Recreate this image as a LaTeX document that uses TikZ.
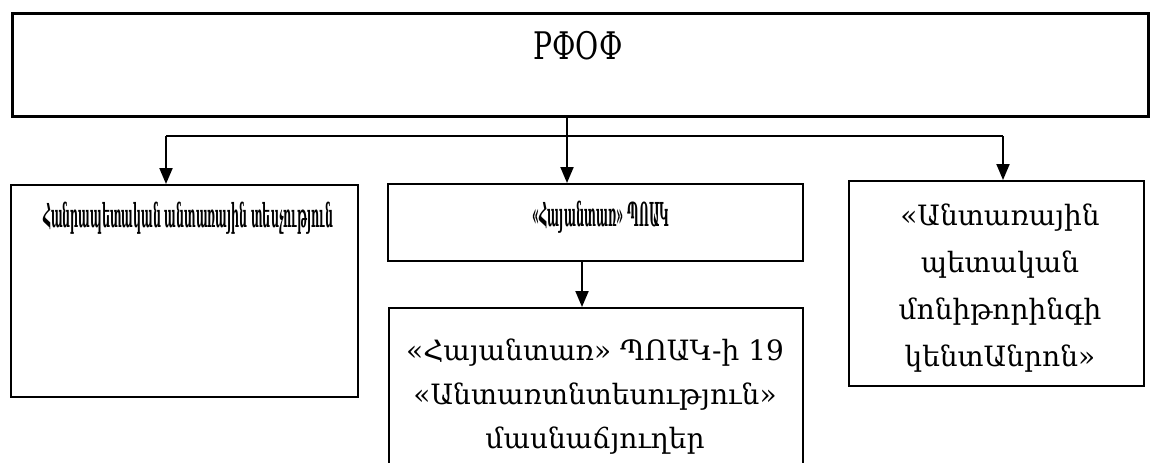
\documentclass[tikz,border=0pt]{standalone}
\usepackage{fontspec}
\setmainfont{DejaVu Serif}
\usepackage{graphicx}
\usetikzlibrary{arrows.meta}

\tikzset{every picture/.style={line width=0.75pt}}
\tikzset{
  box/.style={draw, line width=1pt, inner sep=0pt, anchor=north west},
  txt/.style={inner sep=0pt, align=center, font=\fontsize{14}{22}\selectfont},
  squeezed/.style={inner sep=0pt, font=\fontsize{16.5}{20}\selectfont\bfseries},
  link/.style={line width=1pt, -{Triangle[length=8pt,width=6.5pt]}},
  rail/.style={line width=1pt}
}

\begin{document}
\begin{tikzpicture}[x=0.5pt,y=0.5pt,yscale=-1,xscale=1]
\useasboundingbox (0,0) rectangle (1155,462);

%Boxes
\node [box, line width=1.5pt, minimum width=568pt, minimum height=51.5pt] (rfof) at (11,12) {};
\node [box, minimum width=173.5pt, minimum height=106pt] (inspect) at (10,184) {};
\node [box, minimum width=207.5pt, minimum height=38.5pt] (hayantar) at (387,183) {};
\node [box, minimum width=207pt, minimum height=90pt] (branches) at (388,307) {};
\node [box, minimum width=147.5pt, minimum height=102.5pt] (monitor) at (848,180) {};

% Text Node
\node [inner sep=0pt, font=\fontsize{19}{22}\selectfont] (rfoftext) at (578,46) {\resizebox{44.5pt}{\height}{РФОФ}};
% Text Node
\node [squeezed] (inspecttext) at (188,218) {\resizebox{145pt}{\height}{Հանրապետական անտառային տեսչություն}};
% Text Node
\node [squeezed] (hayantartext) at (601,217) {\resizebox{68.5pt}{\height}{«Հայանտառ» ՊՈԱԿ}};
% Text Node
\node [txt, anchor=north] (branchestext) at (595,338) {«Հայանտառ» ՊՈԱԿ-ի 19\\«Անտառտնտեսություն»\\մասնաճյուղեր};
% Text Node
\node [txt, anchor=north, font=\fontsize{14}{23.5}\selectfont] (monitortext) at (1000,203) {«Անտառային\\պետական\\մոնիթորինգի\\կենտԱնրոն»};

%Connectors
\coordinate (split) at (567,136);
\coordinate (dropL) at (166,136);
\coordinate (dropR) at (1003,136);
\coordinate (down) at (582,284);
\draw [link] (rfof.south -| split) -- (hayantar.north -| split);
\draw [rail] (dropL) -- (dropR);
\draw [link] (dropL) -- (inspect.north -| dropL);
\draw [link] (dropR) -- (monitor.north -| dropR);
\draw [link] (hayantar.south -| down) -- (branches.north -| down);

\end{tikzpicture}
\end{document}
